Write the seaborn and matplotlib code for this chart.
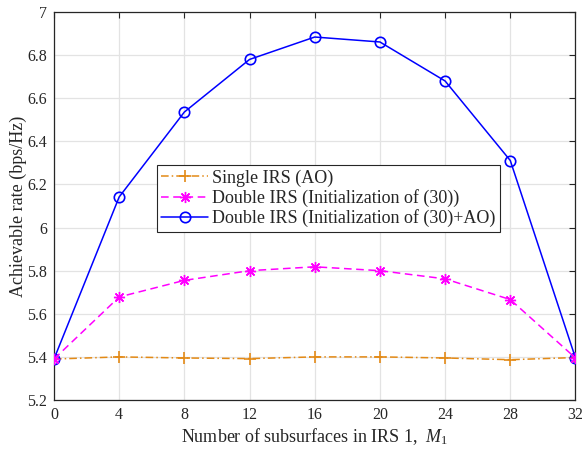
import matplotlib
matplotlib.use("Agg")
import matplotlib.pyplot as plt
import seaborn as sns
import pandas as pd

m1 = [0, 4, 8, 12, 16, 20, 24, 28, 32]
single_ao = [5.39, 5.40, 5.395, 5.392, 5.40, 5.40, 5.395, 5.387, 5.397]
double_init = [5.39, 5.678, 5.755, 5.80, 5.818, 5.80, 5.762, 5.666, 5.395]
double_init_ao = [5.39, 6.142, 6.536, 6.78, 6.884, 6.861, 6.68, 6.311, 5.395]
labels = ["Single IRS (AO)", "Double IRS (Initialization of (30))",
          "Double IRS (Initialization of (30)+AO)"]
xticks = [0, 4, 8, 12, 16, 20, 24, 28, 32]
yticks = [5.2, 5.4, 5.6, 5.8, 6.0, 6.2, 6.4, 6.6, 6.8, 7.0]
ytick_labels = ["5.2", "5.4", "5.6", "5.8", "6", "6.2", "6.4", "6.6", "6.8", "7"]

sns.set_theme(style="whitegrid")
plt.rcParams['font.family'] = ['Liberation Serif', 'DejaVu Serif']
plt.rcParams['mathtext.fontset'] = 'custom'
plt.rcParams['mathtext.rm'] = 'Liberation Serif'
plt.rcParams['mathtext.it'] = 'Liberation Serif:italic'

fig = plt.figure(figsize=(5.83, 4.5), dpi=100)
ax = fig.add_axes([0.0926, 0.1111, 0.8945, 0.8622])

df = pd.DataFrame({"M1": m1 * 3,
                   "rate": single_ao + double_init + double_init_ao,
                   "series": [labels[0]] * 9 + [labels[1]] * 9 + [labels[2]] * 9})

styles = [
    dict(color="#E38A16", ls=(0, (5, 2, 1, 2)), marker="+", ms=9, mew=1.2, mfc="#E38A16", z=3),
    dict(color="#FF00FF", ls=(0, (5, 3)), marker=(8, 2, 0), ms=8, mew=1.0, mfc="#FF00FF", z=5),
    dict(color="#0000FF", ls="-", marker="o", ms=7.5, mew=1.2, mfc="none", z=4),
]
for lab, st in zip(labels, styles):
    sub = df[df.series == lab]
    sns.lineplot(data=sub, x="M1", y="rate", ax=ax, label=lab,
                 color=st["color"], linestyle=st["ls"], marker=st["marker"],
                 markersize=st["ms"], markeredgewidth=st["mew"],
                 markerfacecolor=st["mfc"], markeredgecolor=st["color"],
                 linewidth=1.1, errorbar=None, zorder=st["z"])

ax.set_xlim(0, 32)
ax.set_ylim(5.2, 7.0)
ax.set_xticks(xticks)
ax.set_yticks(yticks)
ax.set_yticklabels(ytick_labels)
ax.set_facecolor("white")
ax.grid(True, color="#E3E3E3", linewidth=0.9)
for s in ax.spines.values():
    s.set_color("#262626")
    s.set_linewidth(0.9)
ax.tick_params(direction="in", length=4, width=0.8, color="#262626",
               top=True, right=True, labelsize=11.5, labelcolor="#262626", pad=5)
ax.set_xlabel("Number of subsurfaces in IRS 1,  $M_1$", fontsize=13, color="#262626", labelpad=2)
ax.set_ylabel("Achievable rate (bps/Hz)", fontsize=13, color="#262626", labelpad=0)

leg = ax.legend(loc="upper left", bbox_to_anchor=(0.1975, 0.6057), fontsize=13,
                frameon=True, fancybox=False, edgecolor="#262626", framealpha=1,
                borderpad=0.25, labelspacing=0.12, handlelength=2.6, handletextpad=0.2,
                borderaxespad=0)
leg.get_frame().set_linewidth(0.8)

fig.savefig("out.png", dpi=100)
